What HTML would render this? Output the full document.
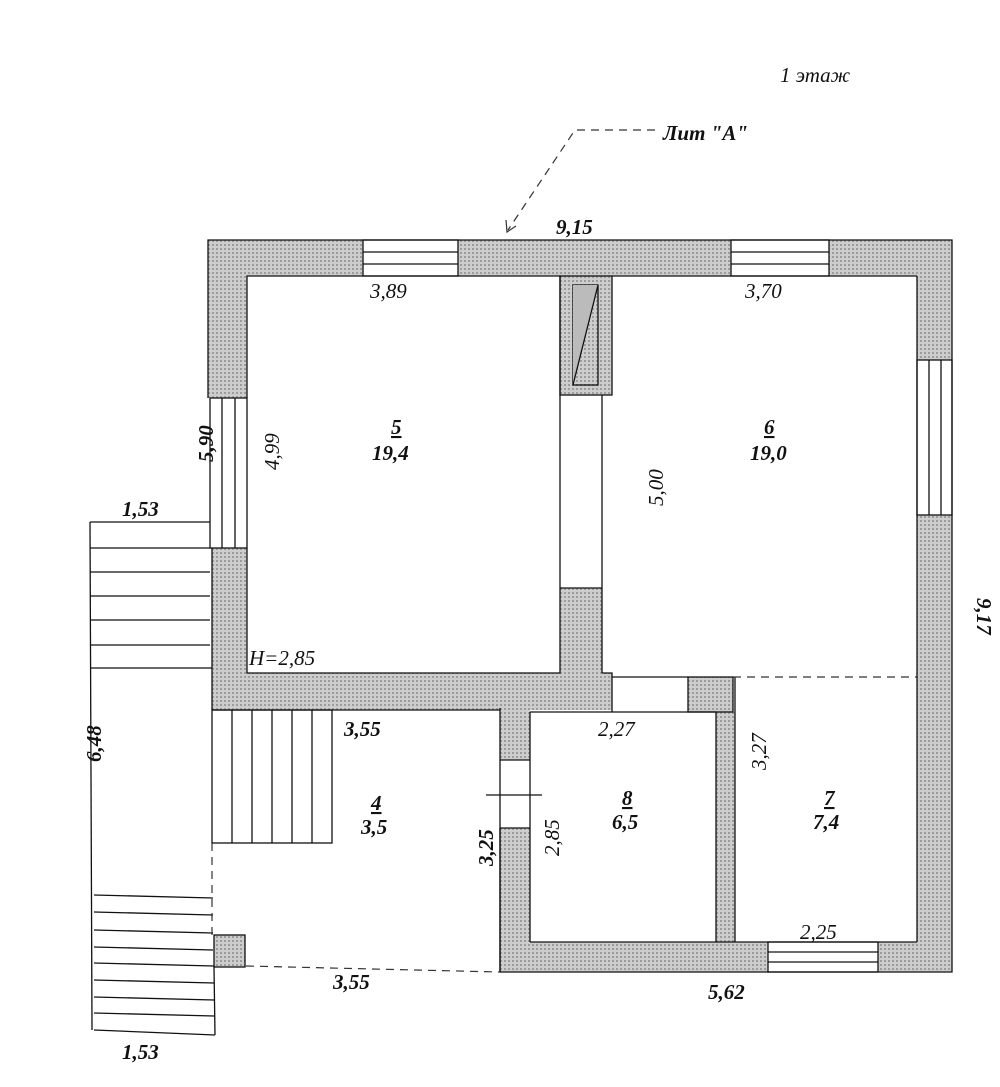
<!DOCTYPE html>
<html><head><meta charset="utf-8"><style>
html,body{margin:0;padding:0;background:#fff}
svg{display:block}
text{font-family:"Liberation Serif",serif;font-style:italic;fill:#111}
.d{font-size:21px;font-weight:bold}
.r{font-size:21px}
</style></head><body>
<svg width="1000" height="1087" viewBox="0 0 1000 1087" xmlns="http://www.w3.org/2000/svg">
<defs>
<pattern id="p" width="4" height="4" patternUnits="userSpaceOnUse">
<rect width="4" height="4" fill="#cdcdcd"/><rect width="2" height="2" fill="#9c9c9c"/>
</pattern>
</defs>
<g fill="url(#p)" stroke="none">
<rect x="208" y="240" width="155" height="36"/>
<rect x="458" y="240" width="273" height="36"/>
<rect x="829" y="240" width="123" height="36"/>
<rect x="917" y="240" width="35" height="120"/>
<rect x="917" y="515" width="35" height="457"/>
<rect x="208" y="240" width="39" height="158"/>
<rect x="212" y="548" width="35" height="162"/>
<rect x="212" y="673" width="400" height="37"/>
<rect x="560" y="588" width="42" height="90"/>
<rect x="688" y="677" width="45" height="35"/>
<rect x="560" y="276" width="52" height="119"/>
<rect x="500" y="708" width="30" height="52"/>
<rect x="500" y="828" width="30" height="144"/>
<rect x="716" y="712" width="19" height="230"/>
<rect x="500" y="942" width="268" height="30"/>
<rect x="878" y="942" width="74" height="30"/>
<rect x="214" y="935" width="31" height="32"/>
</g>
<g fill="none" stroke="#111" stroke-width="1.3">
<polyline points="208,398 208,240 952,240 952,972 500,972 500,828"/>
<line x1="212" y1="548" x2="212" y2="710"/>
<rect x="214" y="935" width="31" height="32"/>
<rect x="363" y="240" width="95" height="36"/>
<line x1="363" y1="252" x2="458" y2="252"/><line x1="363" y1="264" x2="458" y2="264"/>
<rect x="731" y="240" width="98" height="36"/>
<line x1="731" y1="252" x2="829" y2="252"/><line x1="731" y1="264" x2="829" y2="264"/>
<rect x="917" y="360" width="35" height="155"/>
<line x1="929" y1="360" x2="929" y2="515"/><line x1="941" y1="360" x2="941" y2="515"/>
<rect x="210" y="398" width="37" height="150"/>
<line x1="222" y1="398" x2="222" y2="548"/><line x1="235" y1="398" x2="235" y2="548"/>
<polyline points="247,398 247,276 560,276 560,673 247,673 247,548"/>
<rect x="560" y="276" width="52" height="119"/>
<rect x="573" y="285" width="25" height="100"/>
<polygon points="573,285 598,285 573,385" fill="#bbb" stroke="none"/>
<line x1="573" y1="385" x2="598" y2="285"/>
<line x1="602" y1="395" x2="602" y2="673"/>
<line x1="560" y1="588" x2="602" y2="588"/>
<polyline points="612,276 917,276"/>
<line x1="917" y1="276" x2="917" y2="942"/>
<polyline points="602,673 612,673 612,712"/>
<line x1="612" y1="677" x2="688" y2="677"/>
<line x1="212" y1="710" x2="500" y2="710"/>
<line x1="530" y1="712" x2="716" y2="712"/>
<rect x="688" y="677" width="45" height="35"/>
<line x1="735" y1="677" x2="735" y2="942"/>
<line x1="500" y1="708" x2="500" y2="972"/>
<line x1="500" y1="760" x2="530" y2="760"/>
<line x1="500" y1="828" x2="530" y2="828"/>
<line x1="486" y1="795" x2="542" y2="795"/>
<line x1="530" y1="712" x2="530" y2="942"/>
<line x1="530" y1="942" x2="917" y2="942"/>
<line x1="716" y1="712" x2="716" y2="942"/>
<rect x="768" y="942" width="110" height="30"/>
<line x1="768" y1="952" x2="878" y2="952"/><line x1="768" y1="962" x2="878" y2="962"/>
<rect x="212" y="710" width="120" height="133"/>
<line x1="232" y1="710" x2="232" y2="843"/><line x1="252" y1="710" x2="252" y2="843"/>
<line x1="272" y1="710" x2="272" y2="843"/><line x1="292" y1="710" x2="292" y2="843"/>
<line x1="312" y1="710" x2="312" y2="843"/>
<line x1="90" y1="522" x2="210" y2="522"/>
<line x1="90" y1="522" x2="92" y2="1030"/>
<line x1="90" y1="548" x2="210" y2="548"/><line x1="90" y1="572" x2="210" y2="572"/>
<line x1="90" y1="596" x2="210" y2="596"/><line x1="90" y1="620" x2="210" y2="620"/>
<line x1="90" y1="645" x2="210" y2="645"/><line x1="90" y1="668" x2="212" y2="668"/>
<line x1="94" y1="895" x2="213" y2="898"/><line x1="94" y1="912" x2="213" y2="915"/>
<line x1="94" y1="930" x2="213" y2="933"/><line x1="94" y1="947" x2="213" y2="950"/>
<line x1="94" y1="963" x2="214" y2="966"/><line x1="94" y1="980" x2="214" y2="983"/>
<line x1="94" y1="997" x2="214" y2="1000"/><line x1="94" y1="1013" x2="214" y2="1016"/>
<line x1="94" y1="1030" x2="215" y2="1035"/>
<line x1="214" y1="967" x2="215" y2="1035"/>
</g>
<g fill="none" stroke="#333" stroke-width="1.2" stroke-dasharray="8,6">
<line x1="733" y1="677" x2="917" y2="677"/>
<line x1="246" y1="966" x2="500" y2="972"/>
<line x1="212" y1="843" x2="212" y2="935"/>
<polyline points="655,130 575,130 508,230"/>
</g>
<polyline points="506,220 507,232 516,226" fill="none" stroke="#333" stroke-width="1.2"/>
<text x="780" y="82" class="r">1 этаж</text>
<text x="663" y="140" class="r" font-weight="bold">Лит "А"</text>
<text x="556" y="234" class="d">9,15</text>
<text x="370" y="298" class="r">3,89</text>
<text x="745" y="298" class="r">3,70</text>
<text x="391" y="434" class="d" text-decoration="underline">5</text>
<text x="372" y="460" class="d">19,4</text>
<text x="764" y="434" class="d" text-decoration="underline">6</text>
<text x="750" y="460" class="d">19,0</text>
<text x="249" y="665" class="r">H=2,85</text>
<text x="344" y="736" class="d">3,55</text>
<text x="598" y="736" class="r">2,27</text>
<text x="371" y="810" class="d" text-decoration="underline">4</text>
<text x="361" y="834" class="d">3,5</text>
<text x="622" y="805" class="d" text-decoration="underline">8</text>
<text x="612" y="829" class="d">6,5</text>
<text x="824" y="805" class="d" text-decoration="underline">7</text>
<text x="813" y="829" class="d">7,4</text>
<text x="800" y="939" class="r">2,25</text>
<text x="333" y="989" class="d">3,55</text>
<text x="708" y="999" class="d">5,62</text>
<text x="122" y="516" class="d">1,53</text>
<text x="122" y="1059" class="d">1,53</text>
<text transform="translate(213,462) rotate(-90)" class="d">5,90</text>
<text transform="translate(279,470) rotate(-90)" class="r">4,99</text>
<text transform="translate(663,506) rotate(-90)" class="r">5,00</text>
<text transform="translate(101,762) rotate(-90)" class="d">6,48</text>
<text transform="translate(493,866) rotate(-90)" class="d">3,25</text>
<text transform="translate(559,856) rotate(-90)" class="r">2,85</text>
<text transform="translate(766,770) rotate(-90)" class="r">3,27</text>
<text transform="translate(977,598) rotate(90)" class="d">9,17</text>
</svg>
</body></html>
